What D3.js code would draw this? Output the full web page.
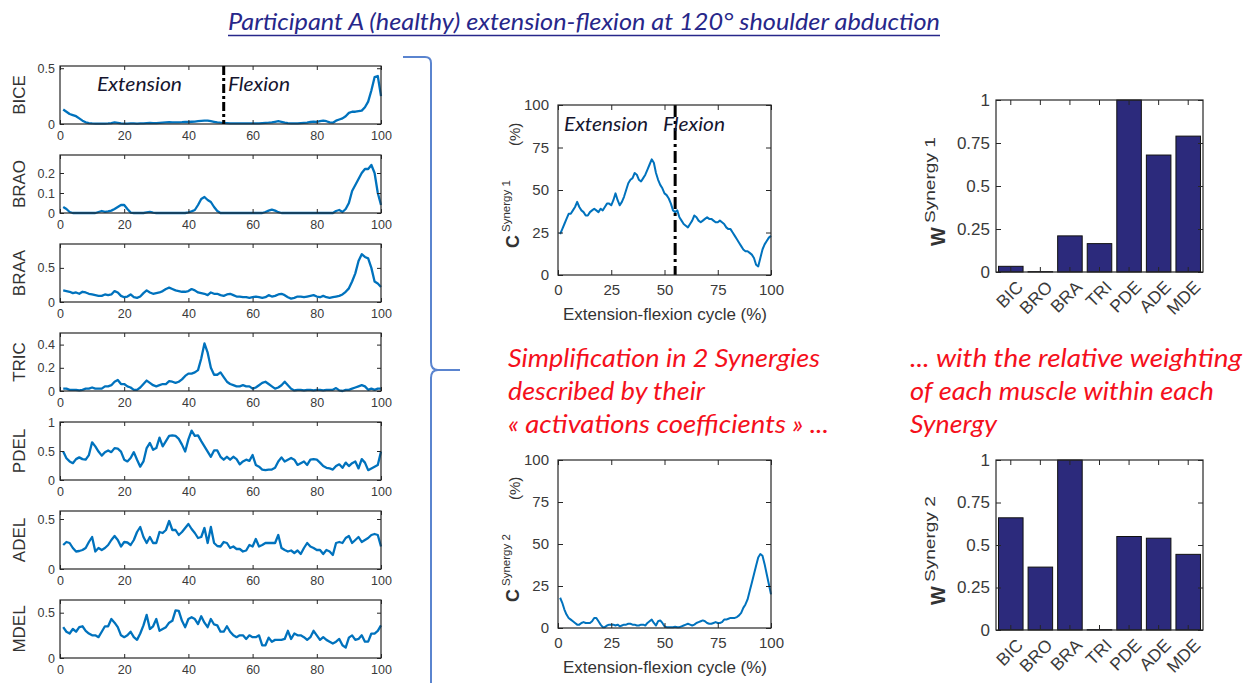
<!DOCTYPE html>
<html><head><meta charset="utf-8">
<script src="https://cdn.jsdelivr.net/npm/d3@7"></script>
<style>
html,body{margin:0;padding:0;background:#fff;}
svg{display:block;}
</style></head><body>
<svg id="fig" width="1256" height="683"></svg>
<script>
// ---- data ----
const cycle = d3.range(1, 101);               // % of the extension-flexion cycle
const muscles = ["BICE", "BRAO", "BRAA", "TRIC", "PDEL", "ADEL", "MDEL"];
const emgMax = [0.52, 0.29, 0.85, 0.5, 1, 0.58, 0.64];
const emgTicks = [[0, 0.5], [0, 0.1, 0.2], [0, 0.5], [0, 0.2, 0.4], [0, 0.5, 1], [0, 0.5], [0, 0.5]];
const emgXTicks = [0, 20, 40, 60, 80, 100];

const bice = [0.13,0.11,0.09,0.08,0.07,0.05,0.03,0.015,0.008,0.005,
  0.004,0.003,0.003,0.004,0.005,0.008,0.015,0.01,0.005,0.004,
  0.004,0.005,0.006,0.004,0.005,0.006,0.008,0.01,0.008,0.008,
  0.01,0.012,0.014,0.016,0.015,0.014,0.015,0.016,0.018,0.018,
  0.02,0.022,0.025,0.028,0.03,0.03,0.025,0.02,0.015,0.012,
  0.01,0.008,0.006,0.005,0.005,0.005,0.006,0.005,0.005,0.006,
  0.005,0.006,0.008,0.01,0.012,0.015,0.02,0.025,0.02,0.012,
  0.008,0.006,0.005,0.006,0.008,0.01,0.012,0.018,0.022,0.018,
  0.025,0.03,0.025,0.015,0.012,0.03,0.04,0.05,0.07,0.1,
  0.11,0.11,0.115,0.12,0.15,0.2,0.3,0.42,0.43,0.25];
const brao = [0.03,0.02,0.005,0,0,0,0,0,0,0,
  0,0.005,0.01,0.006,0.008,0.012,0.02,0.03,0.04,0.04,
  0.02,0.002,0,0,0,0,0.003,0.006,0.002,0,
  0,0,0,0,0,0,0,0,0,0.003,
  0.008,0.015,0.04,0.07,0.08,0.065,0.055,0.03,0.01,0,
  0,0,0,0,0,0,0,0,0,0,
  0,0,0,0.005,0.012,0.017,0.012,0.004,0,0,
  0,0,0,0,0,0,0,0,0,0,
  0,0,0,0,0,0.01,0.015,0.005,0.02,0.05,
  0.11,0.14,0.17,0.2,0.22,0.22,0.24,0.2,0.1,0.04];
const braa = [0.17,0.16,0.15,0.13,0.14,0.12,0.15,0.14,0.12,0.11,
  0.10,0.09,0.09,0.11,0.10,0.11,0.16,0.14,0.09,0.07,
  0.08,0.11,0.07,0.06,0.08,0.13,0.17,0.14,0.12,0.13,
  0.14,0.16,0.19,0.21,0.19,0.17,0.16,0.15,0.15,0.16,
  0.19,0.17,0.14,0.13,0.12,0.10,0.14,0.12,0.12,0.10,
  0.09,0.11,0.12,0.10,0.08,0.08,0.07,0.07,0.06,0.07,
  0.08,0.07,0.06,0.07,0.10,0.08,0.09,0.11,0.12,0.10,
  0.07,0.05,0.06,0.08,0.08,0.07,0.08,0.09,0.10,0.08,
  0.07,0.09,0.07,0.06,0.07,0.08,0.09,0.11,0.15,0.20,
  0.30,0.42,0.60,0.70,0.66,0.64,0.50,0.30,0.27,0.22];
const tric = [0.02,0.02,0.01,0.01,0.01,0.005,0.01,0.02,0.02,0.03,
  0.02,0.02,0.02,0.04,0.04,0.05,0.08,0.095,0.06,0.06,
  0.04,0.03,0.01,0.01,0.03,0.06,0.09,0.07,0.05,0.04,
  0.05,0.06,0.06,0.085,0.08,0.07,0.08,0.10,0.13,0.15,
  0.15,0.16,0.18,0.28,0.41,0.33,0.20,0.14,0.14,0.16,
  0.12,0.08,0.06,0.05,0.04,0.04,0.05,0.04,0.04,0.02,
  0.03,0.05,0.07,0.08,0.06,0.04,0.02,0.03,0.05,0.08,
  0.05,0.02,0.005,0.01,0.01,0.005,0.01,0.01,0.005,0.01,
  0.01,0.005,0.01,0.01,0.01,0.025,0.005,0.0,0.01,0.01,
  0.02,0.03,0.04,0.05,0.04,0.01,0.02,0.01,0.02,0.02];
const pdel = [0.49,0.375,0.32,0.29,0.36,0.39,0.36,0.35,0.43,0.65,
  0.58,0.49,0.42,0.48,0.51,0.48,0.55,0.54,0.49,0.35,
  0.32,0.38,0.48,0.35,0.23,0.32,0.55,0.64,0.52,0.55,
  0.73,0.58,0.67,0.76,0.77,0.76,0.71,0.61,0.49,0.70,
  0.85,0.76,0.77,0.67,0.58,0.49,0.40,0.51,0.51,0.40,
  0.35,0.40,0.35,0.40,0.36,0.27,0.32,0.35,0.33,0.43,
  0.26,0.23,0.18,0.17,0.18,0.18,0.21,0.32,0.39,0.32,
  0.35,0.38,0.35,0.26,0.29,0.32,0.26,0.35,0.36,0.35,
  0.30,0.24,0.21,0.20,0.18,0.24,0.27,0.21,0.30,0.24,
  0.29,0.32,0.20,0.36,0.30,0.17,0.20,0.23,0.26,0.49];
const adel = [0.24,0.27,0.26,0.21,0.175,0.18,0.19,0.21,0.27,0.32,
  0.175,0.21,0.19,0.21,0.24,0.29,0.33,0.29,0.225,0.27,
  0.265,0.24,0.29,0.37,0.42,0.32,0.26,0.32,0.26,0.26,
  0.37,0.36,0.39,0.48,0.39,0.39,0.34,0.37,0.41,0.45,
  0.40,0.36,0.31,0.32,0.41,0.26,0.42,0.26,0.23,0.225,
  0.27,0.26,0.21,0.225,0.20,0.20,0.175,0.185,0.24,0.225,
  0.30,0.225,0.24,0.26,0.26,0.26,0.26,0.34,0.21,0.19,
  0.175,0.185,0.16,0.185,0.15,0.21,0.26,0.225,0.21,0.19,
  0.19,0.15,0.19,0.175,0.14,0.26,0.27,0.26,0.31,0.33,
  0.26,0.29,0.32,0.27,0.29,0.31,0.34,0.35,0.34,0.225];
const mdel = [0.34,0.29,0.27,0.32,0.29,0.34,0.35,0.30,0.27,0.25,
  0.25,0.23,0.29,0.35,0.35,0.43,0.39,0.34,0.25,0.23,
  0.25,0.29,0.23,0.20,0.27,0.36,0.475,0.32,0.35,0.43,
  0.30,0.32,0.34,0.39,0.41,0.525,0.52,0.41,0.34,0.43,
  0.45,0.43,0.375,0.46,0.39,0.34,0.43,0.37,0.36,0.29,
  0.29,0.35,0.29,0.25,0.23,0.25,0.25,0.21,0.25,0.23,
  0.23,0.25,0.14,0.14,0.225,0.18,0.20,0.20,0.20,0.21,
  0.30,0.21,0.27,0.25,0.25,0.23,0.20,0.23,0.30,0.25,
  0.20,0.23,0.20,0.18,0.16,0.18,0.21,0.14,0.115,0.225,
  0.25,0.20,0.21,0.25,0.18,0.18,0.27,0.27,0.30,0.36];
const emg = [bice, brao, braa, tric, pdel, adel, mdel];
const emgSplit = 51;                           // end of extension phase

const synXTicks = [0, 25, 50, 75, 100];
const synYTicks = [0, 25, 50, 75, 100];
const synSplit = 55;
const cSyn1 = [24,27,30,33,36,36,38,40,43,40,
  38,37,35,35,37,38,39,38,37,39,
  38,40,42,42,41,44,48,44,41,43,
  46,50,54,56,57,60,59,56,55,57,
  59,62,65,68,66,60,56,53,51,48,
  47,45,42,38,37,38,34,32,30,29,
  28,30,32,35,34,32,31,32,33,34,
  33,33,32,31,31,32,31,30,28,27,
  27,25,23,21,19,17,15,14,14,13,
  12,10,6,5,10,15,18,20,22,23];
const cSyn2 = [18,15,11,8,6,5,4,3,2,2,
  3,3.5,3,3,3,4,6,6,4,2,
  0.5,0.5,1.5,2,2,2,1.5,2,1,1.5,
  2,2,2.5,2.5,2,2,1.5,1.5,2,2,
  1.5,3,4,5,3,1.5,4,4.5,3,1,
  0.5,0.5,0.5,0.5,0.8,0.5,0.5,1,1.5,2,
  2.5,2,1.5,2,3,3.5,4,4.5,4,3,
  2.5,2.5,3,3.5,3,3,3.5,5,5,5.5,
  6,6,6,6.5,7.5,9,12,14,17,22,
  27,32,37,42,44,43,38,32,26,20];

const wMuscles = ["BIC", "BRO", "BRA", "TRI", "PDE", "ADE", "MDE"];
const wSyn1 = [0.033, 0.002, 0.21, 0.165, 1.0, 0.68, 0.79];
const wSyn2 = [0.66, 0.37, 1.0, 0.002, 0.55, 0.54, 0.445];
const wTicks = [0, 0.25, 0.5, 0.75, 1];

// ---- drawing ----
const svg = d3.select("#fig");
const BLUE = "#0072BD";
const AX = "#262626";
const SANS = "'Liberation Sans', Arial, sans-serif";
const HAND = "Lato, 'Open Sans', sans-serif";
const fmt = d => String(d);

// MATLAB-style boxed axes: inward ticks mirrored on all four sides
function frame(g, x, y, xt, yt, o) {
  const [xa, xb] = x.range();
  const [yb, ya] = y.range();
  const style = sel => {
    sel.select(".domain").remove();
    sel.selectAll(".tick line").attr("stroke", AX).attr("stroke-width", 1);
    sel.selectAll(".tick text").attr("fill", "#3a3a3a")
      .style("font-family", SANS).style("font-size", o.fs + "px");
  };
  g.append("g").attr("transform", `translate(0,${yb})`)
    .call(d3.axisBottom(x).tickValues(xt).tickSizeInner(-o.tick).tickSizeOuter(0)
      .tickPadding(o.padX).tickFormat(o.xFormat || fmt)).call(style);
  g.append("g").attr("transform", `translate(0,${ya})`)
    .call(d3.axisTop(x).tickValues(xt).tickSizeInner(-o.tick).tickSizeOuter(0).tickFormat("")).call(style);
  g.append("g").attr("transform", `translate(${xa},0)`)
    .call(d3.axisLeft(y).tickValues(yt).tickSizeInner(-o.tick).tickSizeOuter(0)
      .tickPadding(o.padY).tickFormat(fmt)).call(style);
  g.append("g").attr("transform", `translate(${xb},0)`)
    .call(d3.axisRight(y).tickValues(yt).tickSizeInner(-o.tick).tickSizeOuter(0).tickFormat("")).call(style);
  g.append("rect").attr("x", xa).attr("y", ya).attr("width", xb - xa).attr("height", yb - ya)
    .attr("fill", "none").attr("stroke", AX).attr("stroke-width", 1.2);
}

// italic phase label stretched to a given width
function phaseLabel(g, t, x, y, fs, len) {
  g.append("text").attr("x", x).attr("y", y)
    .attr("textLength", len).attr("lengthAdjust", "spacingAndGlyphs")
    .style("font-family", HAND).style("font-style", "italic")
    .style("font-size", fs + "px").attr("fill", "#15152e").text(t);
}

// title
svg.append("text").attr("x", 228).attr("y", 30)
  .attr("textLength", 712).attr("lengthAdjust", "spacingAndGlyphs")
  .style("font-family", HAND).style("font-style", "italic")
  .style("font-size", "23px").attr("fill", "#27278a")
  .text("Participant A (healthy) extension-flexion at 120° shoulder abduction");
svg.append("line").attr("x1", 228).attr("x2", 940).attr("y1", 35.5).attr("y2", 35.5)
  .attr("stroke", "#27278a").attr("stroke-width", 1.3);

// ---- muscle EMG envelopes ----
const EMG = { x0: 60, x1: 381, top0: 66, step: 89, h: 58 };
const xEmg = d3.scaleLinear().domain([0, 100]).range([EMG.x0, EMG.x1]);
muscles.forEach((m, i) => {
  const top = EMG.top0 + i * EMG.step;
  const y = d3.scaleLinear().domain([0, emgMax[i]]).range([top + EMG.h, top]);
  const g = svg.append("g");
  g.append("path").datum(emg[i])
    .attr("d", d3.line().x((d, j) => xEmg(cycle[j])).y(d => y(d)))
    .attr("fill", "none").attr("stroke", BLUE).attr("stroke-width", 2.3).attr("stroke-linejoin", "round");
  frame(g, xEmg, y, emgXTicks, emgTicks[i], { fs: 12.5, tick: 4, padX: 7, padY: 5 });
  g.append("text").attr("transform", `translate(25,${top + EMG.h / 2}) rotate(-90)`)
    .attr("text-anchor", "middle").style("font-family", SANS).style("font-size", "17px")
    .attr("fill", "#333").text(m);
  if (i === 0) {
    g.append("line").attr("x1", xEmg(emgSplit)).attr("x2", xEmg(emgSplit))
      .attr("y1", top).attr("y2", top + EMG.h)
      .attr("stroke", "#000").attr("stroke-width", 3).attr("stroke-dasharray", "9,3,3,3");
    phaseLabel(g, "Extension", 97, top + 25, 20, 85);
    phaseLabel(g, "Flexion", 228, top + 25, 20, 62);
  }
});

// curly brace grouping the muscles
svg.append("path")
  .attr("d", "M403,57 L425,57 Q431,57 431,63 L431,362 Q431,370 438,370 L460,370 M438,370 Q431,370 431,378 L431,690")
  .attr("fill", "none").attr("stroke", "#5a84cf").attr("stroke-width", 2);

// ---- synergy activation coefficients ----
const xSyn = d3.scaleLinear().domain([0, 100]).range([558, 771]);
function synPanel(data, top, bottom, n, split) {
  const y = d3.scaleLinear().domain([0, 100]).range([bottom, top]);
  const g = svg.append("g");
  g.append("path").datum(data)
    .attr("d", d3.line().x((d, j) => xSyn(cycle[j])).y(d => y(d)))
    .attr("fill", "none").attr("stroke", BLUE).attr("stroke-width", 2).attr("stroke-linejoin", "round");
  if (split != null) {
    g.append("line").attr("x1", xSyn(split)).attr("x2", xSyn(split)).attr("y1", top).attr("y2", bottom)
      .attr("stroke", "#000").attr("stroke-width", 3).attr("stroke-dasharray", "12,4,3,4");
  }
  frame(g, xSyn, y, synXTicks, synYTicks, { fs: 15, tick: 5, padX: 9, padY: 9 });
  g.append("text").attr("x", 665).attr("y", bottom + 45).attr("text-anchor", "middle")
    .style("font-family", SANS).style("font-size", "17px").attr("fill", "#333")
    .text("Extension-flexion cycle (%)");
  const mid = (top + bottom) / 2;
  const lab = g.append("text").attr("transform", `translate(519,${mid + 58}) rotate(-90)`)
    .style("font-family", SANS).attr("fill", "#333");
  lab.append("tspan").style("font-size", "18px").style("font-weight", "bold").text("C");
  lab.append("tspan").style("font-size", "11.5px").attr("dx", 3).attr("dy", -9).text("Synergy " + n);
  g.append("text").attr("transform", `translate(520,${mid - 44}) rotate(-90)`)
    .style("font-family", SANS).style("font-size", "15px").attr("fill", "#333").text("(%)");
  return g;
}
const s1 = synPanel(cSyn1, 105, 275, 1, synSplit);
phaseLabel(s1, "Extension", 564, 131, 20, 84);
phaseLabel(s1, "Flexion", 663, 131, 20, 62);
synPanel(cSyn2, 460, 628, 2, null);

// ---- muscle weightings ----
const xW = d3.scaleBand().domain(wMuscles).range([996, 1203]).paddingInner(0.17).paddingOuter(0.085);
function wPanel(data, top, bottom, n) {
  const y = d3.scaleLinear().domain([0, 1]).range([bottom, top]);
  const g = svg.append("g");
  g.selectAll("rect.bar").data(data).join("rect").attr("class", "bar")
    .attr("x", (d, i) => xW(wMuscles[i])).attr("width", xW.bandwidth())
    .attr("y", d => y(d)).attr("height", d => y(0) - y(d))
    .attr("fill", "#2c2a7c").attr("stroke", "#111").attr("stroke-width", 1);
  frame(g, xW, y, wMuscles, wTicks, { fs: 17, tick: 5, padX: 4, padY: 6, xFormat: () => "" });
  g.selectAll("text.cat").data(wMuscles).join("text").attr("class", "cat")
    .attr("transform", d => `translate(${xW(d) + xW.bandwidth() / 2 + 9},${bottom + 12}) rotate(-45)`)
    .attr("text-anchor", "end").attr("dy", "0.35em")
    .style("font-family", SANS).style("font-size", "17.5px").attr("fill", "#3a3a3a").text(d => d);
  const lab = g.append("text").attr("transform", `translate(945,${(top + bottom) / 2 + 60}) rotate(-90)`)
    .style("font-family", SANS).attr("fill", "#333");
  lab.append("tspan").style("font-size", "20px").style("font-weight", "bold").text("W");
  lab.append("tspan").style("font-size", "15px").attr("dx", 4).attr("dy", -10)
    .attr("textLength", 86).attr("lengthAdjust", "spacingAndGlyphs").text("Synergy " + n);
}
wPanel(wSyn1, 100, 272, 1);
wPanel(wSyn2, 460, 630, 2);

// ---- explanatory notes ----
const notes = [
  { x: 508, lines: ["Simplification in 2 Synergies", "described by their", "« activations coefficients » ..."], len: [312, 197, 321] },
  { x: 910, lines: ["... with the relative weighting", "of each muscle within each", "Synergy"], len: [332, 304, 87] }
];
notes.forEach(n => n.lines.forEach((t, k) => {
  svg.append("text").attr("x", n.x).attr("y", 367 + k * 33)
    .attr("textLength", n.len[k]).attr("lengthAdjust", "spacingAndGlyphs")
    .style("font-family", HAND).style("font-style", "italic")
    .style("font-size", "25px").attr("fill", "#f5101c").text(t);
}));
</script>
</body></html>
